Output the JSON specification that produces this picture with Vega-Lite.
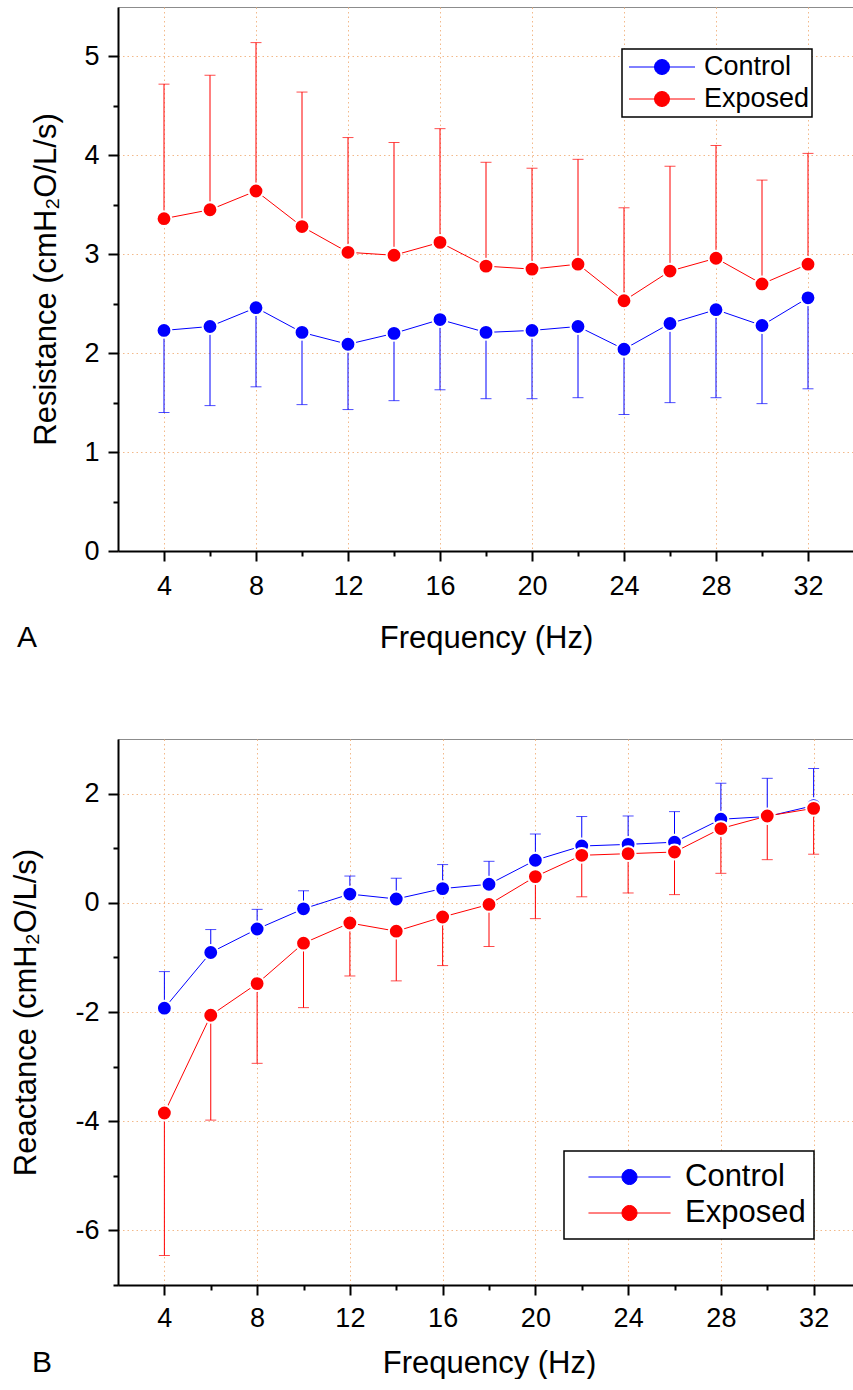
{
  "$schema": "https://vega.github.io/schema/vega-lite/v6.json",
  "padding": {"left": 10, "top": 6, "right": 0, "bottom": 0},
  "background": "white",
  "spacing": 84,
  "resolve": {"scale": {"color": "independent", "x": "independent", "y": "independent"}, "legend": {"color": "independent"}},
  "datasets": {
    "resistance": [
      {"freq": 4, "group": "Control", "mean": 2.23, "bar": 1.40},
      {"freq": 6, "group": "Control", "mean": 2.27, "bar": 1.47},
      {"freq": 8, "group": "Control", "mean": 2.46, "bar": 1.66},
      {"freq": 10, "group": "Control", "mean": 2.21, "bar": 1.48},
      {"freq": 12, "group": "Control", "mean": 2.09, "bar": 1.43},
      {"freq": 14, "group": "Control", "mean": 2.20, "bar": 1.52},
      {"freq": 16, "group": "Control", "mean": 2.34, "bar": 1.63},
      {"freq": 18, "group": "Control", "mean": 2.21, "bar": 1.54},
      {"freq": 20, "group": "Control", "mean": 2.23, "bar": 1.54},
      {"freq": 22, "group": "Control", "mean": 2.27, "bar": 1.55},
      {"freq": 24, "group": "Control", "mean": 2.04, "bar": 1.38},
      {"freq": 26, "group": "Control", "mean": 2.30, "bar": 1.50},
      {"freq": 28, "group": "Control", "mean": 2.44, "bar": 1.55},
      {"freq": 30, "group": "Control", "mean": 2.28, "bar": 1.49},
      {"freq": 32, "group": "Control", "mean": 2.56, "bar": 1.64},
      {"freq": 4, "group": "Exposed", "mean": 3.36, "bar": 4.72},
      {"freq": 6, "group": "Exposed", "mean": 3.45, "bar": 4.81},
      {"freq": 8, "group": "Exposed", "mean": 3.64, "bar": 5.14},
      {"freq": 10, "group": "Exposed", "mean": 3.28, "bar": 4.64},
      {"freq": 12, "group": "Exposed", "mean": 3.02, "bar": 4.18},
      {"freq": 14, "group": "Exposed", "mean": 2.99, "bar": 4.13},
      {"freq": 16, "group": "Exposed", "mean": 3.12, "bar": 4.27},
      {"freq": 18, "group": "Exposed", "mean": 2.88, "bar": 3.93},
      {"freq": 20, "group": "Exposed", "mean": 2.85, "bar": 3.87},
      {"freq": 22, "group": "Exposed", "mean": 2.90, "bar": 3.96},
      {"freq": 24, "group": "Exposed", "mean": 2.53, "bar": 3.47},
      {"freq": 26, "group": "Exposed", "mean": 2.83, "bar": 3.89},
      {"freq": 28, "group": "Exposed", "mean": 2.96, "bar": 4.10},
      {"freq": 30, "group": "Exposed", "mean": 2.70, "bar": 3.75},
      {"freq": 32, "group": "Exposed", "mean": 2.90, "bar": 4.02}
    ],
    "reactance": [
      {"freq": 4, "group": "Control", "mean": -1.93, "bar": -1.26},
      {"freq": 6, "group": "Control", "mean": -0.91, "bar": -0.49},
      {"freq": 8, "group": "Control", "mean": -0.48, "bar": -0.12},
      {"freq": 10, "group": "Control", "mean": -0.11, "bar": 0.22},
      {"freq": 12, "group": "Control", "mean": 0.16, "bar": 0.49},
      {"freq": 14, "group": "Control", "mean": 0.07, "bar": 0.45},
      {"freq": 16, "group": "Control", "mean": 0.26, "bar": 0.70},
      {"freq": 18, "group": "Control", "mean": 0.34, "bar": 0.76},
      {"freq": 20, "group": "Control", "mean": 0.78, "bar": 1.26},
      {"freq": 22, "group": "Control", "mean": 1.04, "bar": 1.58},
      {"freq": 24, "group": "Control", "mean": 1.07, "bar": 1.59},
      {"freq": 26, "group": "Control", "mean": 1.11, "bar": 1.67},
      {"freq": 28, "group": "Control", "mean": 1.53, "bar": 2.19},
      {"freq": 30, "group": "Control", "mean": 1.58, "bar": 2.28},
      {"freq": 32, "group": "Control", "mean": 1.78, "bar": 2.46},
      {"freq": 4, "group": "Exposed", "mean": -3.85, "bar": -6.46},
      {"freq": 6, "group": "Exposed", "mean": -2.06, "bar": -3.98},
      {"freq": 8, "group": "Exposed", "mean": -1.48, "bar": -2.94},
      {"freq": 10, "group": "Exposed", "mean": -0.74, "bar": -1.92},
      {"freq": 12, "group": "Exposed", "mean": -0.37, "bar": -1.34},
      {"freq": 14, "group": "Exposed", "mean": -0.52, "bar": -1.43},
      {"freq": 16, "group": "Exposed", "mean": -0.26, "bar": -1.15},
      {"freq": 18, "group": "Exposed", "mean": -0.03, "bar": -0.80},
      {"freq": 20, "group": "Exposed", "mean": 0.48, "bar": -0.29},
      {"freq": 22, "group": "Exposed", "mean": 0.87, "bar": 0.11},
      {"freq": 24, "group": "Exposed", "mean": 0.90, "bar": 0.18},
      {"freq": 26, "group": "Exposed", "mean": 0.93, "bar": 0.15},
      {"freq": 28, "group": "Exposed", "mean": 1.36, "bar": 0.54},
      {"freq": 30, "group": "Exposed", "mean": 1.59, "bar": 0.79},
      {"freq": 32, "group": "Exposed", "mean": 1.73, "bar": 0.89}
    ]
  },
  "vconcat": [
    {
      "width": 736,
      "height": 544,
      "data": {"name": "resistance"},
      "title": {"text": "A", "orient": "bottom", "anchor": "start", "frame": "group", "dx": -101, "offset": -30, "fontSize": 30, "fontWeight": "normal", "font": "Liberation Sans", "color": "black"},
      "encoding": {
        "x": {
          "field": "freq", "type": "quantitative",
          "scale": {"domain": [2, 34], "nice": false, "zero": false},
          "axis": {
            "title": "Frequency (Hz)",
            "values": [4, 6, 8, 10, 12, 14, 16, 18, 20, 22, 24, 26, 28, 30, 32],
            "labelExpr": "datum.value % 4 === 0 ? '' + datum.value : ''",
            "tickSize": {"condition": {"test": "datum.value % 4 === 0", "value": 10}, "value": 5},
            "gridOpacity": {"condition": {"test": "datum.value % 4 === 0", "value": 1}, "value": 0},
            "labelPadding": 12,
            "titlePadding": 24,
            "labelOverlap": false,
            "labelFlush": false
          }
        },
        "color": {
          "field": "group", "type": "nominal",
          "scale": {"domain": ["Control", "Exposed"], "range": ["#0000ff", "#ff0000"]},
          "legend": {
            "title": null, "orient": "top-right", "offset": 42, "padding": 2,
            "strokeColor": "black", "fillColor": "white",
            "symbolType": "M-0.88,0H0.88M-0.2,0A0.2,0.2,0,1,1,0.2,0A0.2,0.2,0,1,1,-0.2,0Z",
            "symbolSize": 5625, "symbolStrokeWidth": 1, "clipHeight": 32, "labelOffset": 4,
            "labelFontSize": 27, "labelFont": "Liberation Sans", "labelColor": "black", "rowPadding": 0,
            "encode": {
              "symbols": {"update": {
                "fill": {"signal": "datum.value === 'Control' ? '#0000ff' : '#ff0000'"},
                "stroke": {"signal": "datum.value === 'Control' ? '#0000ff' : '#ff0000'"},
                "strokeWidth": {"value": 1},
                "opacity": {"value": 1},
                "size": {"value": 5625},
                "shape": {"value": "M-0.88,0H0.88M-0.2,0A0.2,0.2,0,1,1,0.2,0A0.2,0.2,0,1,1,-0.2,0Z"}
              }},
              "legend": {"update": {"strokeWidth": {"value": 1.5}}}
            }
          }
        }
      },
      "layer": [
        {
          "mark": {"type": "rule", "strokeWidth": 1},
          "encoding": {
            "y": {
              "field": "mean", "type": "quantitative",
              "scale": {"domain": [0, 5.5], "nice": false, "zero": false},
              "axis": {
                "title": "Resistance (cmH₂O/L/s)",
                "values": [0, 0.5, 1, 1.5, 2, 2.5, 3, 3.5, 4, 4.5, 5],
                "labelExpr": "datum.value % 1 === 0 ? '' + datum.value : ''",
                "tickSize": {"condition": {"test": "datum.value % 1 === 0", "value": 10}, "value": 5},
                "gridOpacity": {"condition": {"test": "datum.value % 1 === 0", "value": 1}, "value": 0},
                "labelPadding": 9,
                "titlePadding": 21,
                "labelOverlap": false,
                "labelFlush": false
              }
            },
            "y2": {"field": "bar"}
          }
        },
        {
          "mark": {"type": "tick", "orient": "horizontal", "size": 11, "thickness": 1},
          "encoding": {"y": {"field": "bar", "type": "quantitative", "title": "Resistance (cmH₂O/L/s)"}}
        },
        {
          "mark": {"type": "line", "strokeWidth": 1},
          "encoding": {"y": {"field": "mean", "type": "quantitative", "title": "Resistance (cmH₂O/L/s)"}}
        },
        {
          "mark": {"type": "point", "filled": true, "size": 220, "opacity": 1, "stroke": "white", "strokeWidth": 2},
          "encoding": {"y": {"field": "mean", "type": "quantitative", "title": "Resistance (cmH₂O/L/s)"}}
        }
      ]
    },
    {
      "width": 742,
      "height": 546,
      "data": {"name": "reactance"},
      "title": {"text": "B", "orient": "bottom", "anchor": "start", "frame": "group", "dx": -86, "offset": -30, "fontSize": 30, "fontWeight": "normal", "font": "Liberation Sans", "color": "black"},
      "encoding": {
        "x": {
          "field": "freq", "type": "quantitative",
          "scale": {"domain": [2, 34], "nice": false, "zero": false},
          "axis": {
            "title": "Frequency (Hz)",
            "values": [4, 6, 8, 10, 12, 14, 16, 18, 20, 22, 24, 26, 28, 30, 32],
            "labelExpr": "datum.value % 4 === 0 ? '' + datum.value : ''",
            "tickSize": {"condition": {"test": "datum.value % 4 === 0", "value": 10}, "value": 5},
            "gridOpacity": {"condition": {"test": "datum.value % 4 === 0", "value": 1}, "value": 0},
            "labelPadding": 10,
            "titlePadding": 17,
            "labelOverlap": false,
            "labelFlush": false
          }
        },
        "color": {
          "field": "group", "type": "nominal",
          "scale": {"domain": ["Control", "Exposed"], "range": ["#0000ff", "#ff0000"]},
          "legend": {
            "title": null, "orient": "bottom-right", "offset": 46, "padding": 8,
            "strokeColor": "black", "fillColor": "white",
            "symbolType": "M-0.72,0H0.72M-0.132,0A0.132,0.132,0,1,1,0.132,0A0.132,0.132,0,1,1,-0.132,0Z",
            "symbolSize": 12996, "symbolStrokeWidth": 1, "clipHeight": 36, "labelOffset": -2,
            "labelFontSize": 31, "labelFont": "Liberation Sans", "labelColor": "black", "rowPadding": 0,
            "encode": {
              "symbols": {"update": {
                "fill": {"signal": "datum.value === 'Control' ? '#0000ff' : '#ff0000'"},
                "stroke": {"signal": "datum.value === 'Control' ? '#0000ff' : '#ff0000'"},
                "strokeWidth": {"value": 1},
                "opacity": {"value": 1},
                "size": {"value": 12996},
                "shape": {"value": "M-0.72,0H0.72M-0.132,0A0.132,0.132,0,1,1,0.132,0A0.132,0.132,0,1,1,-0.132,0Z"}
              }},
              "legend": {"update": {"strokeWidth": {"value": 1.5}}}
            }
          }
        }
      },
      "layer": [
        {
          "mark": {"type": "rule", "strokeWidth": 1},
          "encoding": {
            "y": {
              "field": "mean", "type": "quantitative",
              "scale": {"domain": [-7, 3], "nice": false, "zero": false},
              "axis": {
                "title": "Reactance (cmH₂O/L/s)",
                "values": [-7, -6, -5, -4, -3, -2, -1, 0, 1, 2],
                "labelExpr": "datum.value % 2 === 0 ? '' + datum.value : ''",
                "tickSize": {"condition": {"test": "datum.value % 2 === 0", "value": 10}, "value": 5},
                "gridOpacity": {"condition": {"test": "datum.value % 2 === 0", "value": 1}, "value": 0},
                "labelPadding": 9,
                "titlePadding": 32,
                "labelOverlap": false,
                "labelFlush": false
              }
            },
            "y2": {"field": "bar"}
          }
        },
        {
          "mark": {"type": "tick", "orient": "horizontal", "size": 11, "thickness": 1},
          "encoding": {"y": {"field": "bar", "type": "quantitative", "title": "Reactance (cmH₂O/L/s)"}}
        },
        {
          "mark": {"type": "line", "strokeWidth": 1},
          "encoding": {"y": {"field": "mean", "type": "quantitative", "title": "Reactance (cmH₂O/L/s)"}}
        },
        {
          "mark": {"type": "point", "filled": true, "size": 220, "opacity": 1, "stroke": "white", "strokeWidth": 2},
          "encoding": {"y": {"field": "mean", "type": "quantitative", "title": "Reactance (cmH₂O/L/s)"}}
        }
      ]
    }
  ],
  "config": {
    "font": "Liberation Sans",
    "view": {"stroke": "#8c8c8c", "strokeWidth": 1},
    "axis": {
      "domainColor": "black", "domainWidth": 2, "tickColor": "black", "tickWidth": 2,
      "labelFont": "Liberation Sans", "labelFontSize": 27, "labelColor": "black",
      "titleFont": "Liberation Sans", "titleFontSize": 31, "titleFontWeight": "normal", "titleColor": "black",
      "gridColor": "#f2b98a", "gridDash": [1.5, 3], "gridWidth": 1
    }
  }
}
